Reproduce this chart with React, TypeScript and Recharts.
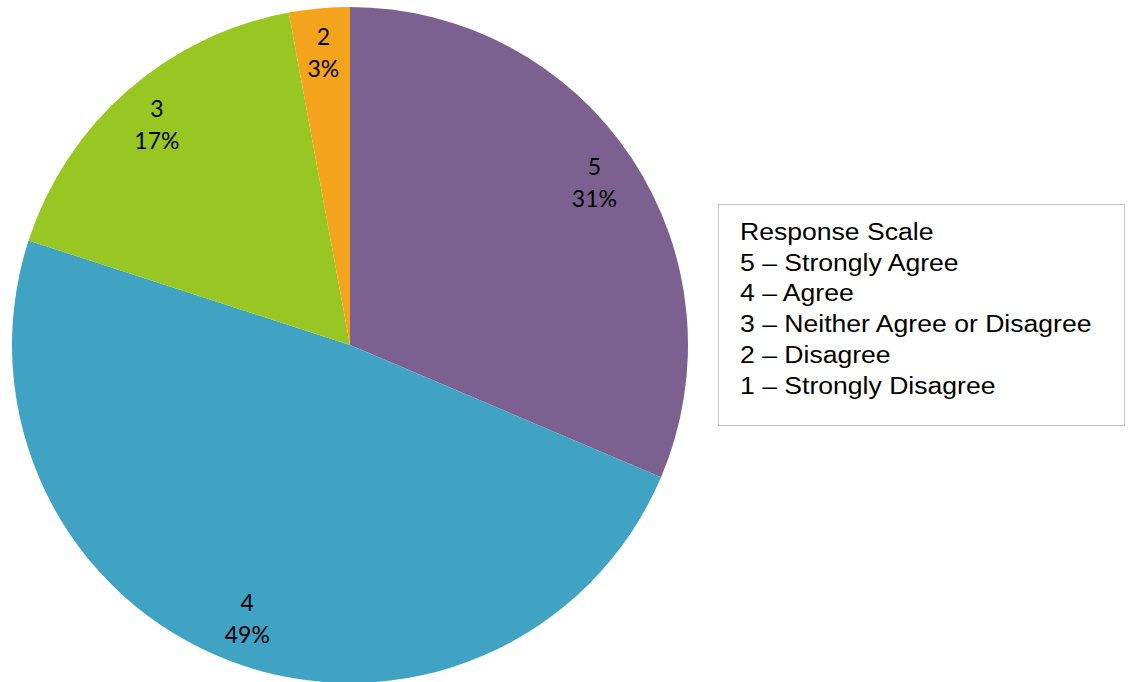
import React from "react";
import { PieChart, Pie, Cell } from "recharts";

const categories = ["5", "4", "3", "2"];
const values = [31.4, 48.6, 17.1, 2.9];
const percentLabels = ["31%", "49%", "17%", "3%"];
const colors = ["#7C6190", "#40A3C3", "#98C723", "#F4A31C"];
const legendTitle = "Response Scale";
const legendItems = [
  "5 \u2013 Strongly Agree",
  "4 \u2013 Agree",
  "3 \u2013 Neither Agree or Disagree",
  "2 \u2013 Disagree",
  "1 \u2013 Strongly Disagree",
];

const data = categories.map((c, i) => ({ name: c, value: values[i] }));
const RADIAN = Math.PI / 180;

const renderLabel = (props: any) => {
  const { cx, cy, midAngle, outerRadius, index } = props;
  const r = outerRadius * 0.867;
  const x = cx + r * Math.cos(-midAngle * RADIAN);
  const y = cy + r * Math.sin(-midAngle * RADIAN);
  return (
    <text
      x={x}
      y={y}
      textAnchor="middle"
      fill="#000"
      fontFamily="Lato, 'Open Sans', sans-serif"
      fontSize={23}
    >
      <tspan x={x} y={y - 8}>{categories[index]}</tspan>
      <tspan x={x} y={y + 24}>{percentLabels[index]}</tspan>
    </text>
  );
};

export default function App() {
  return (
    <div style={{ position: "absolute", left: 0, top: 0, width: 1133, height: 682, background: "#fff", overflow: "hidden" }}>
      <PieChart width={1133} height={682} margin={{ top: 0, right: 0, bottom: 0, left: 0 }}>
        <Pie
          data={data}
          dataKey="value"
          nameKey="name"
          cx={350}
          cy={345}
          outerRadius={338}
          startAngle={90}
          endAngle={-270}
          stroke="none"
          labelLine={false}
          label={renderLabel}
          isAnimationActive={false}
        >
          {data.map((d, i) => (
            <Cell key={d.name} fill={colors[i]} />
          ))}
        </Pie>
      </PieChart>
      <div
        style={{
          position: "absolute",
          left: 718,
          top: 204,
          width: 407,
          height: 222,
          border: "1px solid #C6C6C6",
          boxSizing: "border-box",
          background: "#fff",
        }}
      >
        <div
          style={{
            position: "absolute",
            left: 21,
            top: 12,
            fontFamily: "'Liberation Sans', Arial, sans-serif",
            fontSize: 23,
            lineHeight: "30.7px",
            color: "#000",
            transform: "scaleX(1.155)",
            transformOrigin: "left top",
            whiteSpace: "nowrap",
          }}
        >
          <div>{legendTitle}</div>
          {legendItems.map((t) => (
            <div key={t}>{t}</div>
          ))}
        </div>
      </div>
    </div>
  );
}
